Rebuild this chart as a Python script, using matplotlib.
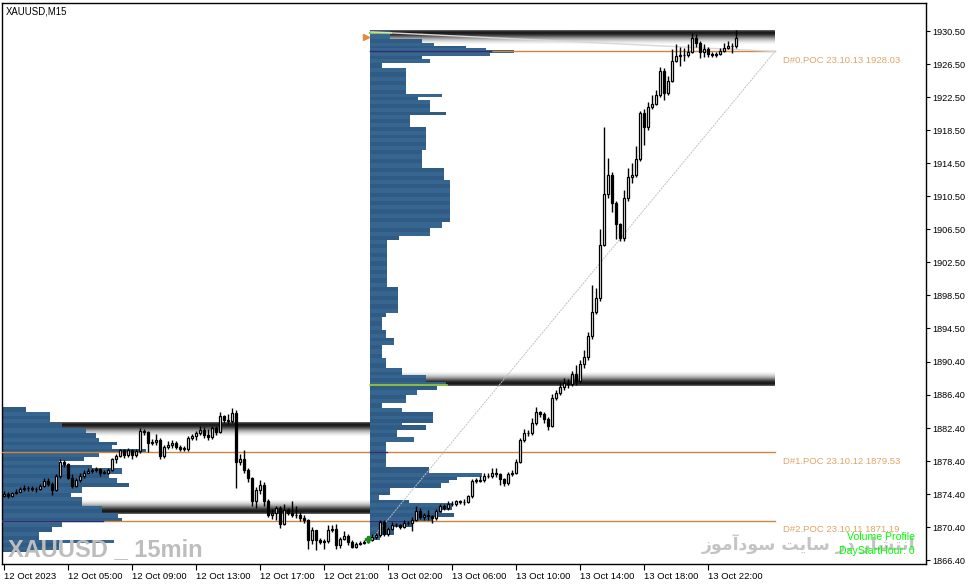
import numpy as np
import matplotlib.pyplot as plt

# 字体：窄体优先（接近MT4的Tahoma）
plt.rcParams["font.family"] = ["Liberation Sans Narrow", "Liberation Sans", "DejaVu Sans"]

# ---- K线数据 (XAUUSD M15, 12 Oct 01:00 起, 每天92根) ----
first_open = 1874.2
closes = [
    1874.4, 1874.2, 1874.5, 1874.7, 1875.0, 1875.1, 1875.1, 1875.0, 1875.0, 1875.4,
    1876.0, 1875.6, 1874.9, 1876.6, 1878.3, 1878.0, 1876.4, 1875.4, 1876.1, 1876.6,
    1877.0, 1877.2, 1877.3, 1877.4, 1877.0, 1877.0, 1877.3, 1878.6, 1879.0, 1879.7,
    1879.1, 1879.7, 1879.1, 1879.6, 1882.0, 1881.9, 1880.6, 1880.7, 1881.0, 1879.0,
    1880.1, 1880.4, 1880.6, 1880.1, 1879.9, 1879.9, 1881.2, 1881.4, 1881.8, 1882.2,
    1881.5, 1881.3, 1882.4, 1881.9, 1883.8, 1883.4, 1883.3, 1884.2, 1878.3, 1878.6,
    1877.3, 1876.3, 1873.5, 1874.9, 1875.5, 1873.5, 1871.9, 1872.1, 1872.7, 1870.8,
    1872.5, 1872.1, 1871.9, 1871.8, 1871.5, 1871.2, 1868.8, 1870.0, 1868.8, 1868.6,
    1868.7, 1870.0, 1870.2, 1868.2, 1869.0, 1869.3, 1868.6, 1868.0, 1868.4, 1868.5,
    1868.6, 1868.8,
    1869.2, 1869.4, 1871.05, 1869.5, 1870.2, 1870.7, 1870.6, 1870.4, 1870.9, 1870.9,
    1871.25, 1872.4, 1871.65, 1871.8, 1871.7, 1871.5, 1872.4, 1872.95, 1872.7, 1873.2,
    1873.2, 1873.5, 1873.4, 1873.4, 1874.15, 1876.0, 1876.0, 1876.1, 1876.6, 1876.6,
    1877.0, 1876.8, 1876.2, 1875.7, 1876.8, 1877.0, 1878.3, 1881.0, 1881.75, 1881.8,
    1883.0, 1884.3, 1884.1, 1883.45, 1882.6, 1886.0, 1886.6, 1887.4, 1887.9, 1887.7,
    1888.9, 1888.1, 1890.2, 1891.0, 1893.5, 1896.5, 1898.2, 1904.6, 1910.8, 1913.1,
    1909.7, 1907.1, 1905.4, 1910.3, 1912.8, 1913.1, 1915.0, 1920.6, 1918.9, 1921.3,
    1921.7, 1922.8, 1925.7, 1923.0, 1924.5, 1926.9, 1927.5, 1927.6, 1927.6, 1928.0,
    1929.6, 1929.1, 1928.0, 1928.3, 1927.7, 1927.6, 1927.7, 1928.1, 1928.4, 1928.7,
    1928.7, 1929.6,
]
highs = [
    1874.8, 1874.6, 1874.7, 1875.0, 1875.3, 1875.5, 1875.4, 1875.4, 1875.3, 1875.6,
    1876.4, 1876.3, 1875.9, 1876.8, 1878.6, 1878.5, 1878.1, 1876.8, 1876.4, 1876.9,
    1877.3, 1877.5, 1877.6, 1877.7, 1877.6, 1877.3, 1877.6, 1878.8, 1879.3, 1879.9,
    1879.9, 1880.0, 1879.9, 1879.9, 1882.4, 1882.3, 1882.0, 1881.1, 1881.7, 1881.2,
    1880.4, 1880.8, 1881.0, 1880.8, 1880.4, 1880.2, 1881.4, 1881.7, 1882.0, 1882.6,
    1882.5, 1882.3, 1882.6, 1882.6, 1884.3, 1884.0, 1884.1, 1884.8, 1884.6, 1879.3,
    1879.7, 1877.6, 1876.5, 1875.2, 1876.1, 1875.8, 1873.8, 1872.6, 1873.0, 1873.0,
    1873.2, 1872.7, 1873.6, 1872.9, 1872.2, 1871.8, 1871.4, 1870.4, 1870.1, 1869.1,
    1869.0, 1870.6, 1870.6, 1870.8, 1869.2, 1869.9, 1869.6, 1868.8, 1868.6, 1868.7,
    1868.8, 1869.0,
    1869.5, 1869.7, 1871.3, 1871.2, 1870.4, 1871.0, 1870.9, 1870.8, 1871.2, 1871.1,
    1871.6, 1872.9, 1872.7, 1872.1, 1872.5, 1871.9, 1872.6, 1873.2, 1873.2, 1873.5,
    1873.6, 1873.7, 1873.7, 1873.8, 1874.3, 1876.2, 1876.4, 1876.6, 1876.9, 1876.9,
    1877.5, 1877.6, 1877.0, 1876.3, 1877.1, 1877.3, 1878.7, 1881.2, 1882.3, 1882.2,
    1883.6, 1884.9, 1884.5, 1884.3, 1883.7, 1886.5, 1887.0, 1888.0, 1888.4, 1888.3,
    1889.3, 1890.0, 1890.6, 1891.8, 1894.0, 1899.7, 1899.4, 1906.5, 1918.9, 1915.1,
    1913.4, 1909.9, 1907.3, 1911.2, 1913.9, 1914.5, 1916.6, 1920.8, 1921.0, 1921.9,
    1922.8, 1923.4, 1926.2, 1926.0, 1925.0, 1928.3, 1928.9, 1928.6, 1928.5, 1928.9,
    1930.3, 1930.1, 1929.3, 1928.9, 1928.6, 1928.0, 1928.0, 1928.5, 1929.0, 1929.3,
    1929.1, 1930.6,
]
lows = [
    1874.0, 1873.9, 1874.0, 1874.4, 1874.6, 1874.8, 1874.8, 1874.8, 1874.7, 1874.9,
    1875.3, 1875.4, 1874.3, 1874.8, 1876.4, 1877.7, 1876.2, 1875.1, 1875.2, 1875.9,
    1876.4, 1876.9, 1877.0, 1877.1, 1876.6, 1876.8, 1876.8, 1877.2, 1878.2, 1878.9,
    1878.8, 1878.9, 1878.7, 1878.9, 1879.4, 1881.5, 1879.5, 1880.3, 1880.4, 1878.7,
    1878.8, 1879.9, 1880.0, 1879.8, 1879.6, 1879.6, 1879.6, 1880.9, 1881.0, 1881.6,
    1881.2, 1881.0, 1881.1, 1881.5, 1881.8, 1883.0, 1882.9, 1883.0, 1875.1, 1877.9,
    1876.9, 1875.8, 1872.9, 1872.7, 1874.4, 1873.0, 1871.6, 1871.4, 1871.3, 1870.3,
    1870.6, 1871.8, 1871.6, 1871.5, 1871.1, 1870.9, 1867.7, 1868.3, 1867.6, 1868.3,
    1867.7, 1868.5, 1869.8, 1867.7, 1867.9, 1868.8, 1868.2, 1867.8, 1867.8, 1868.2,
    1868.3, 1868.5,
    1868.7, 1869.0, 1869.2, 1869.3, 1869.3, 1870.0, 1870.4, 1870.2, 1870.3, 1870.6,
    1869.9, 1871.1, 1871.4, 1871.3, 1871.2, 1870.9, 1871.3, 1872.2, 1872.5, 1872.5,
    1873.0, 1873.0, 1873.2, 1873.1, 1873.3, 1873.9, 1875.7, 1875.8, 1875.9, 1876.3,
    1876.4, 1876.5, 1875.5, 1875.4, 1875.5, 1876.6, 1876.8, 1878.1, 1880.7, 1881.4,
    1881.6, 1882.8, 1883.7, 1883.0, 1882.2, 1882.5, 1885.8, 1886.4, 1887.0, 1887.2,
    1887.5, 1887.6, 1887.9, 1889.7, 1890.7, 1893.2, 1896.2, 1897.8, 1904.4, 1910.3,
    1908.6, 1905.3, 1905.1, 1905.1, 1909.9, 1912.1, 1912.8, 1914.8, 1916.7, 1918.5,
    1921.0, 1921.5, 1922.5, 1922.2, 1922.8, 1924.3, 1926.8, 1926.3, 1926.9, 1927.3,
    1927.8, 1928.6, 1927.2, 1927.4, 1927.3, 1927.3, 1927.4, 1927.6, 1928.0, 1928.3,
    1927.8, 1928.5,
]
bars_per_day = 92

# ---- 成交量分布 (价格边界 + 每层宽度) ----
prof12_edges = [1884.95, 1884.34, 1883.01, 1882.40, 1881.79, 1881.19, 1880.70, 1880.34,
                1879.85, 1879.37, 1878.88, 1878.40, 1877.92, 1877.55, 1876.82, 1876.34,
                1875.73, 1875.25, 1874.52, 1874.04, 1872.95, 1872.10, 1871.49, 1871.01,
                1870.40, 1869.79, 1868.82, 1868.46, 1867.61, 1867.35]
prof12_volume = [24, 48, 60, 84, 94, 97, 115, 110, 144, 97, 82, 57, 90, 120, 107, 115,
                 127, 80, 69, 80, 100, 116, 120, 60, 50, 37, 112, 57, 32]
prof13_edges = [1930.52, 1930.28, 1929.55, 1929.07, 1928.70, 1928.46, 1928.22, 1927.85,
                1927.49, 1927.13, 1926.64, 1926.04, 1922.88, 1922.52, 1922.16, 1920.70,
                1920.34, 1918.88, 1916.10, 1913.92, 1912.46, 1907.37, 1906.64, 1905.67,
                1905.19, 1899.49, 1896.34, 1895.85, 1894.28, 1893.31, 1892.46, 1890.88,
                1889.67, 1888.82, 1887.98, 1887.49, 1887.01, 1886.40, 1885.43, 1884.82,
                1884.34, 1883.01, 1882.76, 1882.16, 1881.31, 1880.70, 1877.67, 1876.95,
                1876.46, 1876.10, 1875.73, 1875.13, 1874.28, 1873.67, 1873.31, 1872.46,
                1872.10, 1871.61, 1871.13, 1870.40, 1869.43, 1868.82]
prof13_volume = [20, 20, 52, 64, 96, 116, 144, 120, 52, 60, 12, 36, 72, 48, 60, 76, 40,
                 56, 52, 74, 80, 72, 60, 29, 17, 28, 16, 12, 16, 24, 12, 16, 32, 56, 76,
                 67, 47, 36, 12, 32, 63, 32, 56, 27, 44, 16, 59, 112, 87, 79, 71, 20, 9,
                 39, 82, 72, 84, 62, 42, 24, 10]

# 价值区 (VAH, VAL)
va_high = [1883.01, 1930.52]
va_low = [1871.98, 1887.49]

poc_prices = [1928.03, 1879.53, 1871.19]
poc_labels = ["D#0.POC 23.10.13 1928.03", "D#1.POC 23.10.12 1879.53", "D#2.POC 23.10.11 1871.19"]

ytick_values = [1866.40, 1870.40, 1874.40, 1878.40, 1882.40, 1886.40, 1890.40, 1894.50,
                1898.50, 1902.50, 1906.50, 1910.50, 1914.50, 1918.50, 1922.50, 1926.50, 1930.50]
xtick_bars = [0, 16, 32, 48, 64, 80, 96, 112, 128, 144, 160, 176]
xtick_labels = ["12 Oct 2023", "12 Oct 05:00", "12 Oct 09:00", "12 Oct 13:00",
                "12 Oct 17:00", "12 Oct 21:00", "13 Oct 02:00", "13 Oct 06:00",
                "13 Oct 10:00", "13 Oct 14:00", "13 Oct 18:00", "13 Oct 22:00"]

# ---- 画布 ----
fig = plt.figure(figsize=(9.72, 5.84), dpi=100)
ax = fig.add_axes([2 / 972, 20 / 584, 924 / 972, 561 / 584])
ax.set_xlim(-0.5, 230.5)
ax.set_ylim(1865.92, 1933.9)

n = len(closes)
x = np.arange(n)
opens = [first_open] + closes[:-1]
line_end = 192.75          # POC线右端
vol_scale = 0.25           # 分布宽度 -> K线单位
day_x0 = [-0.4, bars_per_day - 0.4]
band_x1 = [bars_per_day - 0.4, line_end]

# 价值区渐变条
band_h = 1.75
grad = np.array([0.35, 0.12, 0.1, 0.18, 0.3, 0.45, 0.6, 0.72, 0.82, 0.9, 0.95, 1.0])
for d in range(2):
    ax.imshow(grad[:, None], cmap="gray", vmin=0, vmax=1, aspect="auto",
              extent=[day_x0[d], band_x1[d], va_high[d] - band_h, va_high[d]],
              interpolation="bilinear", zorder=1)
    ax.imshow(grad[::-1][:, None], cmap="gray", vmin=0, vmax=1, aspect="auto",
              extent=[day_x0[d], band_x1[d], va_low[d], va_low[d] + band_h],
              interpolation="bilinear", zorder=1)

# 成交量分布
shades = ["#2f5b84", "#366690"]
for d, (edges, vols) in enumerate([(prof12_edges, prof12_volume), (prof13_edges, prof13_volume)]):
    k = 0
    for i, v in enumerate(vols):
        top, bot = edges[i], edges[i + 1]
        m = max(1, int(round((top - bot) / 0.5)))
        step = (top - bot) / m
        for j in range(m):
            ax.barh(top - (j + 1) * step, v * vol_scale, height=step, left=day_x0[d],
                    align="edge", color=shades[k % 2], linewidth=0, zorder=2)
            k += 1

# POC 线与标签
poc_start = [bars_per_day - 0.4, -0.4, -0.4]
for p, s, lab in zip(poc_prices, poc_start, poc_labels):
    ax.plot([s, line_end], [p, p], color="#cd853f", lw=1, zorder=3)
    ax.annotate(lab, xy=(line_end + 2, p), xytext=(0, -3.5), textcoords="offset points",
                ha="left", va="top", fontsize=6.8, color="#e3a466",
                family=["Liberation Sans", "DejaVu Sans"], annotation_clip=False)

# 分布内的深蓝POC段与价值区绿线
ax.plot([91.6, 121.75], [poc_prices[0]] * 2, color="#1f2f8a", lw=1, zorder=3)
ax.plot([91.6, 95.75], [poc_prices[1]] * 2, color="#1f2f8a", lw=1, zorder=3)
ax.plot([91.6, 102.25], [poc_prices[2]] * 2, color="#1f2f8a", lw=1, zorder=3)
ax.plot([-0.4, 24.75], [poc_prices[2]] * 2, color="#1f2f8a", lw=1, zorder=3)
ax.plot([91.6, 110.75], [1887.6, 1887.6], color="#9acd32", lw=1.2, zorder=3)
ax.plot([91.6, 96.75], [1930.3, 1930.3], color="#7ccd32", lw=1.5, zorder=3)

# 斜线
ax.plot([91.75, line_end], [1868.82, poc_prices[0]], color="#c0c0c0", lw=0.7,
        ls=(0, (2, 1)), zorder=3)
ax.plot([91.75, line_end], [1930.4, poc_prices[0]], color="#d8d8d8", lw=1.0, zorder=3)

# K线
ax.vlines(x, lows, highs, color="black", lw=1, zorder=5)
body_low = np.minimum(opens, closes)
body_h = np.maximum(np.abs(np.array(closes) - np.array(opens)), 0.04)
colors = ["white" if c >= o else "black" for o, c in zip(opens, closes)]
ax.bar(x, body_h, bottom=body_low, width=0.66, color=colors, edgecolor="black",
       linewidth=0.9, zorder=6)

# 小标记
ax.plot([90.6], [1929.8], marker=">", color="#e8893a", ms=5, zorder=7)
ax.plot([90.9], [1869.0], marker="P", color="#1e8b1e", ms=5, zorder=7)

# 坐标轴
ax.yaxis.tick_right()
ax.set_yticks(ytick_values)
ax.set_yticklabels(["%.2f" % v for v in ytick_values])
ax.set_xticks(xtick_bars)
ax.set_xticklabels(xtick_labels)
for lab in ax.get_xticklabels():
    lab.set_horizontalalignment("left")
ax.tick_params(axis="y", direction="out", length=3, width=0.8, pad=1.5, labelsize=6.6)
ax.tick_params(axis="x", direction="out", length=4, width=0.8, pad=1.5, labelsize=6.8)
for sp in ax.spines.values():
    sp.set_color("black")
    sp.set_linewidth(1)

# 文字
ax.text(0.004, 0.994, "XAUUSD,M15", transform=ax.transAxes, ha="left", va="top",
        fontsize=6.9, color="black", zorder=9)
fig.text(8 / 972, 28 / 584, "XAUUSD _ 15min", ha="left", va="baseline", fontsize=17,
         fontweight="bold", color="#bdbdbd", zorder=9)
persian = "\uFEAF\uFEEE\uFEE3\uFE81\uFEA9\uFEEE\uFEB3 \uFE96\uFEF3\uFE8E\uFEB3 \uFEAD\uFEA9 \uFEAD\uFE8E\uFEB8\uFE98\uFEE7\uFE8D"
fig.text(915 / 972, 40 / 584, persian, ha="right", va="center", fontsize=12.5,
         fontweight="bold", color="#c4c4c4", family=["DejaVu Sans"], zorder=9)
fig.text(915 / 972, 47 / 584, "Volume Profile", ha="right", va="center", fontsize=7.6,
         color="#00ff00", family=["Liberation Sans", "DejaVu Sans"], zorder=10)
fig.text(915 / 972, 33 / 584, "DayStartHour: 0", ha="right", va="center", fontsize=7.6,
         color="#00ff00", family=["Liberation Sans", "DejaVu Sans"], zorder=10)

fig.savefig("out.png", dpi=100)
